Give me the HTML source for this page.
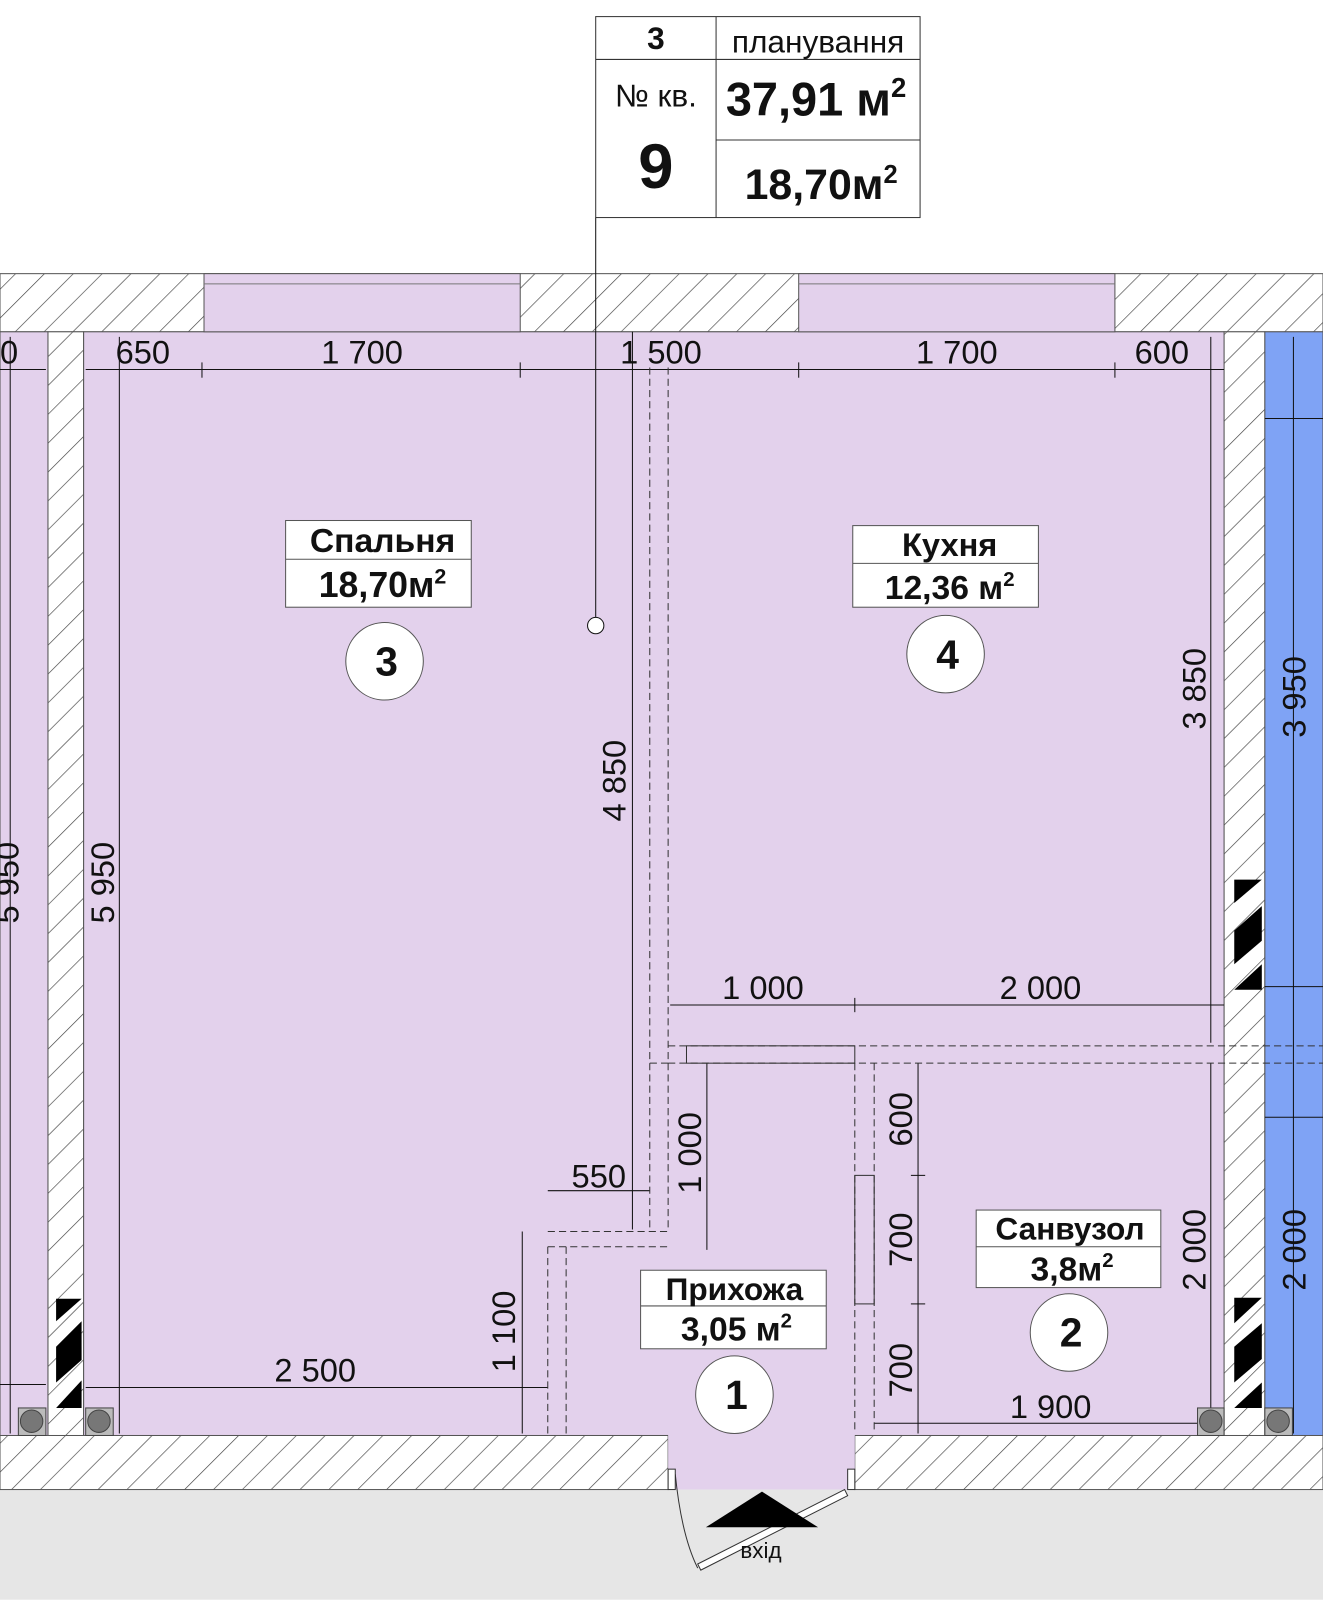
<!DOCTYPE html>
<html><head><meta charset="utf-8"><style>html,body{margin:0;padding:0;background:#fff}svg{display:block}text{font-family:"Liberation Sans",sans-serif;fill:#111}</style></head>
<body>
<svg width="1323" height="1600" viewBox="0 0 1297 1568" xmlns="http://www.w3.org/2000/svg">
<defs>
<pattern id="h" width="20" height="20" patternUnits="userSpaceOnUse" patternTransform="rotate(45)">
<rect width="20" height="20" fill="#fff"/><line x1="0" y1="0" x2="0" y2="20" stroke="#444" stroke-width="1.3"/>
</pattern>
</defs>
<rect x="0" y="1460" width="1297" height="108" fill="#e6e6e6"/>
<rect x="0" y="268" width="1297" height="57" fill="url(#h)" stroke="#555"/>
<rect x="0" y="1407" width="655" height="53" fill="url(#h)" stroke="#555"/>
<rect x="838" y="1407" width="459" height="53" fill="url(#h)" stroke="#555"/>
<rect x="47" y="325" width="35" height="1082" fill="url(#h)" stroke="#555"/>
<rect x="1200" y="325" width="40" height="1082" fill="url(#h)" stroke="#555"/>
<rect x="0" y="325" width="47" height="1082" fill="#e3d1ec" stroke="#555"/>
<rect x="82" y="325" width="1118" height="1082" fill="#e3d1ec" stroke="#555"/>
<rect x="655" y="1400" width="183" height="60" fill="#e3d1ec"/>
<rect x="1240" y="325" width="57" height="1082" fill="#7fa3f5" stroke="#555"/>
<rect x="200" y="268" width="310" height="57" fill="#e3d1ec" stroke="#555"/>
<rect x="783" y="268" width="310" height="57" fill="#e3d1ec" stroke="#555"/>
<line x1="200" y1="278" x2="510" y2="278" stroke="#777"/><line x1="783" y1="278" x2="1093" y2="278" stroke="#777"/>
<g stroke="#111" stroke-width="1" fill="none">
<line x1="10" y1="330" x2="10" y2="1405"/>
<line x1="0" y1="362" x2="45" y2="362"/><line x1="0" y1="1357" x2="45" y2="1357"/>
<line x1="84" y1="362" x2="1200" y2="362"/>
<line x1="198" y1="355" x2="198" y2="370"/><line x1="510" y1="355" x2="510" y2="370"/><line x1="783" y1="355" x2="783" y2="370"/><line x1="1093" y1="355" x2="1093" y2="370"/>
<line x1="117" y1="330" x2="117" y2="1405"/>
<line x1="620" y1="325" x2="620" y2="1205"/>
<line x1="1187" y1="330" x2="1187" y2="1022"/>
<line x1="1187" y1="1042" x2="1187" y2="1405"/>
<line x1="584" y1="213" x2="584" y2="605"/>
<circle cx="584" cy="613" r="8" fill="#fff"/>
<line x1="657" y1="985" x2="1200" y2="985"/><line x1="838" y1="978" x2="838" y2="992"/>
<line x1="84" y1="1360" x2="537" y2="1360"/>
<line x1="512" y1="1207" x2="512" y2="1405"/>
<line x1="537" y1="1167" x2="637" y2="1167"/>
<line x1="693" y1="1042" x2="693" y2="1225"/>
<line x1="900" y1="1042" x2="900" y2="1405"/>
<line x1="893" y1="1152" x2="907" y2="1152"/><line x1="893" y1="1278" x2="907" y2="1278"/>
<line x1="857" y1="1395" x2="1198" y2="1395"/>
<line x1="1240" y1="410" x2="1297" y2="410"/><line x1="1240" y1="967" x2="1297" y2="967"/><line x1="1240" y1="1095" x2="1297" y2="1095"/>
<line x1="1268" y1="330" x2="1268" y2="1405"/>
</g>
<g stroke="#333" stroke-width="1" fill="none" stroke-dasharray="7,4">
<line x1="637" y1="360" x2="637" y2="1205"/><line x1="655" y1="360" x2="655" y2="1205"/>
<line x1="655" y1="1025" x2="1297" y2="1025"/><line x1="655" y1="1042" x2="1297" y2="1042"/>
<line x1="637" y1="1042" x2="655" y2="1042"/>
<line x1="537" y1="1207" x2="655" y2="1207"/><line x1="537" y1="1222" x2="655" y2="1222"/>
<line x1="537" y1="1222" x2="537" y2="1405"/><line x1="555" y1="1222" x2="555" y2="1405"/>
<line x1="838" y1="1042" x2="838" y2="1405"/><line x1="857" y1="1042" x2="857" y2="1405"/>
</g>
<rect x="673" y="1025" width="165" height="17" fill="none" stroke="#333"/>
<rect x="838" y="1152" width="19" height="126" fill="none" stroke="#333"/>
<path d="M662 1445 Q668 1505 684 1537" stroke="#333" fill="none"/>
<polygon points="684,1533 828,1460 831,1466 687,1539" fill="#fff" stroke="#333"/>
<rect x="655" y="1440" width="7" height="20" fill="#fff" stroke="#333"/>
<rect x="831" y="1440" width="7" height="20" fill="#fff" stroke="#333"/>
<polygon points="692,1497 747,1462 802,1497" fill="#000"/>
<text x="746" y="1527" font-size="22" text-anchor="middle">вхід</text>
<g fill="#777" stroke="#444">
<rect x="18" y="1380" width="27" height="27" fill="#bbb"/><circle cx="31" cy="1393" r="11"/>
<rect x="84" y="1380" width="27" height="27" fill="#bbb"/><circle cx="97" cy="1393" r="11"/>
<rect x="1174" y="1380" width="26" height="27" fill="#bbb"/><circle cx="1187" cy="1393" r="11"/>
<rect x="1240" y="1380" width="27" height="27" fill="#bbb"/><circle cx="1253" cy="1393" r="11"/>
</g>
<g fill="#000">
<polygon points="55,1273 80,1273 55,1295"/><polygon points="55,1320 80,1295 80,1333 55,1355"/><polygon points="80,1353 80,1380 55,1380"/>
<polygon points="1210,862 1237,862 1210,885"/><polygon points="1210,912 1237,888 1237,922 1210,945"/><polygon points="1237,945 1237,970 1210,970"/>
<polygon points="1210,1272 1237,1272 1210,1297"/><polygon points="1210,1320 1237,1297 1237,1332 1210,1355"/><polygon points="1237,1355 1237,1380 1210,1380"/>
</g>
<g font-size="32">
<text x="140" y="356" text-anchor="middle">650</text>
<text x="355" y="356" text-anchor="middle">1 700</text>
<text x="648" y="356" text-anchor="middle">1 500</text>
<text x="938" y="356" text-anchor="middle">1 700</text>
<text x="1139" y="356" text-anchor="middle">600</text>
<text x="0" y="356">0</text>
<text x="748" y="979" text-anchor="middle">1 000</text>
<text x="1020" y="979" text-anchor="middle">2 000</text>
<text x="309" y="1354" text-anchor="middle">2 500</text>
<text x="587" y="1164" text-anchor="middle">550</text>
<text x="1030" y="1390" text-anchor="middle">1 900</text>
<text transform="translate(112,865) rotate(-90)" text-anchor="middle">5 950</text>
<text transform="translate(613,765) rotate(-90)" text-anchor="middle">4 850</text>
<text transform="translate(1182,675) rotate(-90)" text-anchor="middle">3 850</text>
<text transform="translate(1280,683) rotate(-90)" text-anchor="middle">3 950</text>
<text transform="translate(687,1130) rotate(-90)" text-anchor="middle">1 000</text>
<text transform="translate(505,1305) rotate(-90)" text-anchor="middle">1 100</text>
<text transform="translate(894,1097) rotate(-90)" text-anchor="middle">600</text>
<text transform="translate(894,1215) rotate(-90)" text-anchor="middle">700</text>
<text transform="translate(894,1343) rotate(-90)" text-anchor="middle">700</text>
<text transform="translate(1182,1225) rotate(-90)" text-anchor="middle">2 000</text>
<text transform="translate(1280,1225) rotate(-90)" text-anchor="middle">2 000</text>
<text transform="translate(18,865) rotate(-90)" text-anchor="middle">5 950</text>
</g>
<g stroke="#555" fill="#fff">
<rect x="280" y="510" width="182" height="85"/><line x1="280" y1="548" x2="462" y2="548"/>
<rect x="836" y="515" width="182" height="80"/><line x1="836" y1="552" x2="1018" y2="552"/>
<rect x="628" y="1245" width="182" height="77"/><line x1="628" y1="1280" x2="810" y2="1280"/>
<rect x="957" y="1186" width="181" height="76"/><line x1="957" y1="1222" x2="1138" y2="1222"/>
<circle cx="377" cy="648" r="38"/><circle cx="927" cy="641" r="38"/><circle cx="720" cy="1367" r="38"/><circle cx="1048" cy="1306" r="38"/>
</g>
<g font-weight="bold" text-anchor="middle">
<text x="375" y="541" font-size="33">Спальня</text><text x="375" y="585" font-size="35">18,70м<tspan font-size="21" dy="-13">2</tspan></text>
<text x="931" y="545" font-size="32">Кухня</text><text x="931" y="587" font-size="33">12,36 м<tspan font-size="20" dy="-13">2</tspan></text>
<text x="720" y="1274" font-size="31">Прихожа</text><text x="722" y="1314" font-size="33">3,05 м<tspan font-size="20" dy="-13">2</tspan></text>
<text x="1049" y="1215" font-size="31">Санвузол</text><text x="1051" y="1255" font-size="33">3,8м<tspan font-size="20" dy="-13">2</tspan></text>
<text x="379" y="662" font-size="40">3</text><text x="929" y="655" font-size="40">4</text><text x="722" y="1381" font-size="40">1</text><text x="1050" y="1320" font-size="40">2</text>
</g>
<g stroke="#333" fill="#fff">
<rect x="584" y="16" width="318" height="197"/>
<line x1="702" y1="16" x2="702" y2="213"/><line x1="584" y1="58" x2="902" y2="58"/><line x1="702" y1="137" x2="902" y2="137"/>
</g>
<text x="643" y="48" font-size="31" font-weight="bold" text-anchor="middle">3</text>
<text x="802" y="51" font-size="31" text-anchor="middle">планування</text>
<text x="643" y="104" font-size="31" text-anchor="middle">№ кв.</text>
<text x="643" y="184" font-size="62" font-weight="bold" text-anchor="middle">9</text>
<text x="800" y="113" font-size="46" font-weight="bold" text-anchor="middle">37,91 м<tspan font-size="27" dy="-18">2</tspan></text>
<text x="805" y="195" font-size="42" font-weight="bold" text-anchor="middle">18,70м<tspan font-size="25" dy="-16">2</tspan></text>
</svg>
</body></html>
